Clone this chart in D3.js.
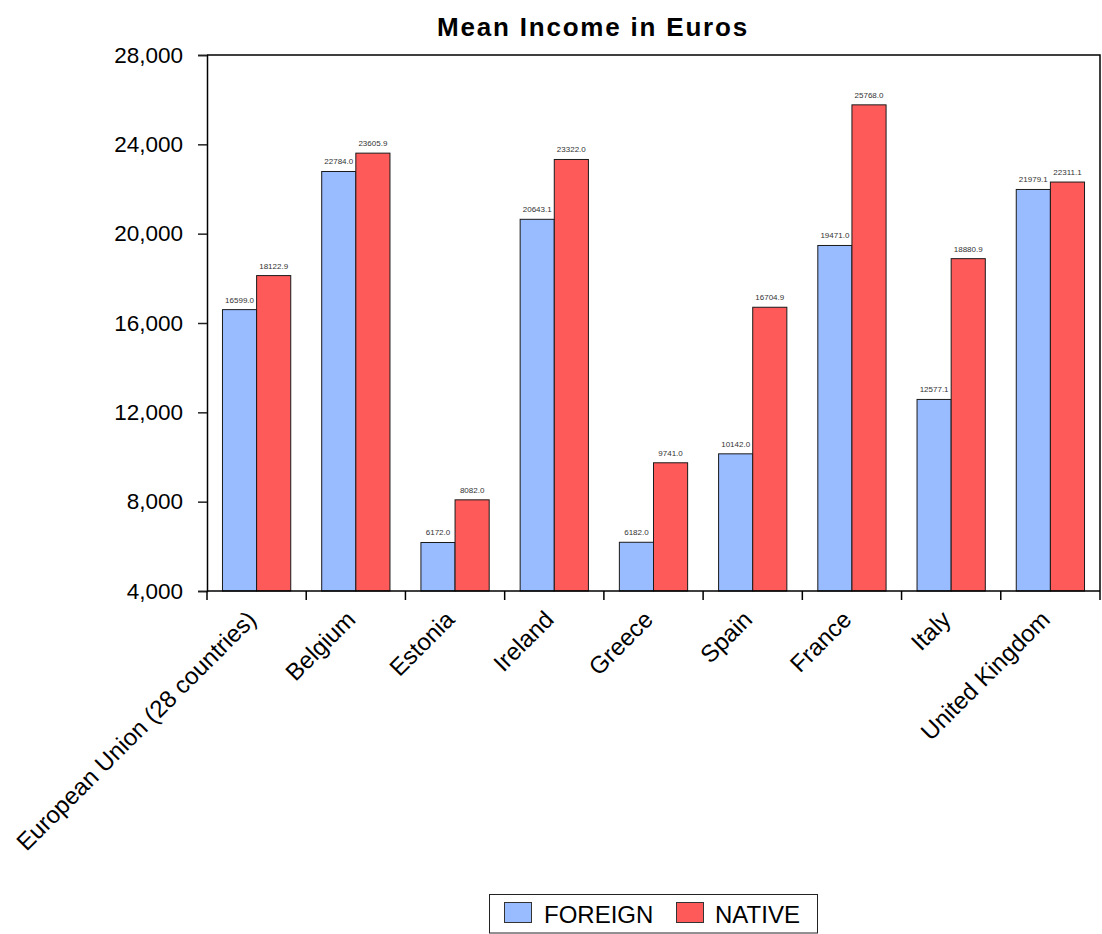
<!DOCTYPE html>
<html>
<head>
<meta charset="utf-8">
<script src="https://cdn.jsdelivr.net/npm/d3@7"></script>
<style>
  html, body { margin: 0; padding: 0; background: #fff; }
  svg { display: block; font-family: Arial, "Liberation Sans", sans-serif; }
</style>
</head>
<body>
<svg id="chart" width="1102" height="934"></svg>
<script>
// Mean income in euros by country, foreign-born vs native population
const categories = [
  "European Union (28 countries)", "Belgium", "Estonia", "Ireland",
  "Greece", "Spain", "France", "Italy", "United Kingdom"
];
const seriesNames = ["FOREIGN", "NATIVE"];
const foreign = [16599.0, 22784.0, 6172.0, 20643.1, 6182.0, 10142.0, 19471.0, 12577.1, 21979.1];
const native  = [18122.9, 23605.9, 8082.0, 23322.0, 9741.0, 16704.9, 25768.0, 18880.9, 22311.1];
const yTicks = [4000, 8000, 12000, 16000, 20000, 24000, 28000];
const colors = ["#99bbff", "#ff5a5a"];

const rows = categories.map((c, i) => ({ category: c, values: [foreign[i], native[i]] }));

const svg = d3.select("#chart");
const plotLeft = 207, plotRight = 1100, plotTop = 55, plotBottom = 591;

const x = d3.scaleBand().domain(categories).range([plotLeft, plotRight]).padding(0);
const inner = d3.scaleBand().domain(seriesNames)
  .range([x.bandwidth() * 0.156, x.bandwidth() * 0.844]).padding(0);
const y = d3.scaleLinear().domain([4000, 28000]).range([plotBottom, plotTop]);

// Title
svg.append("text")
  .attr("x", 593).attr("y", 36)
  .attr("text-anchor", "middle")
  .attr("font-size", 26).attr("font-weight", "bold")
  .attr("letter-spacing", 1.8)
  .attr("fill", "#000")
  .text("Mean Income in Euros");

// Bars
const groups = svg.append("g").selectAll("g").data(rows).join("g")
  .attr("transform", d => `translate(${x(d.category)},0)`);

groups.selectAll("rect")
  .data(d => d.values.map((v, k) => ({ key: seriesNames[k], value: v, k })))
  .join("rect")
  .attr("x", d => inner(d.key))
  .attr("y", d => y(d.value))
  .attr("width", inner.bandwidth())
  .attr("height", d => plotBottom - y(d.value))
  .attr("fill", d => colors[d.k])
  .attr("stroke", "#1a1a1a")
  .attr("stroke-width", 1);

// Value labels
groups.selectAll("text.val")
  .data(d => d.values.map((v, k) => ({ key: seriesNames[k], value: v })))
  .join("text")
  .attr("class", "val")
  .attr("x", d => inner(d.key) + inner.bandwidth() / 2)
  .attr("y", d => y(d.value) - 7)
  .attr("text-anchor", "middle")
  .attr("font-size", 8)
  .attr("fill", "#333")
  .text(d => d.value.toFixed(1));

// Frame: top and right border
svg.append("path")
  .attr("d", `M${plotLeft},${plotTop}H${plotRight}V${plotBottom}`)
  .attr("fill", "none").attr("stroke", "#000").attr("stroke-width", 1.5);

// Y axis
const yAxis = svg.append("g")
  .attr("transform", `translate(${plotLeft},0)`)
  .call(d3.axisLeft(y).tickValues(yTicks).tickFormat(d3.format(",")).tickSize(9).tickPadding(15));
yAxis.select(".domain").attr("stroke", "#000").attr("stroke-width", 1.5);
yAxis.selectAll(".tick line").attr("stroke", "#222").attr("stroke-width", 1.5);
yAxis.selectAll("text").attr("font-size", 22.5).attr("fill", "#000")
  .attr("font-family", "Arial, 'Liberation Sans', sans-serif");

// X axis: ticks at category boundaries
const boundaries = categories.map(c => x(c)).concat([plotRight]);
svg.append("line")
  .attr("x1", plotLeft).attr("x2", plotRight).attr("y1", plotBottom).attr("y2", plotBottom)
  .attr("stroke", "#000").attr("stroke-width", 1.5);
svg.append("g").selectAll("line").data(boundaries).join("line")
  .attr("x1", d => d).attr("x2", d => d)
  .attr("y1", plotBottom).attr("y2", plotBottom + 9)
  .attr("stroke", "#000").attr("stroke-width", 1.5);

svg.append("g").selectAll("text").data(categories).join("text")
  .attr("transform", d => `translate(${x(d) + x.bandwidth() / 2 + 1},${plotBottom + 30}) rotate(-45)`)
  .attr("text-anchor", "end")
  .attr("font-size", 24)
  .attr("fill", "#000")
  .text(d => d);

// Legend
const legend = svg.append("g");
legend.append("rect")
  .attr("x", 489.5).attr("y", 894.5).attr("width", 328).attr("height", 38.5)
  .attr("fill", "#fff").attr("stroke", "#222").attr("stroke-width", 1);
const legendItems = [
  { name: seriesNames[0], color: colors[0], sx: 504, tx: 544 },
  { name: seriesNames[1], color: colors[1], sx: 676, tx: 715 }
];
legend.selectAll("g.item").data(legendItems).join("g").attr("class", "item")
  .each(function(d) {
    const g = d3.select(this);
    g.append("rect").attr("x", d.sx + 0.5).attr("y", 902.5).attr("width", 27).attr("height", 20)
      .attr("fill", d.color).attr("stroke", "#333").attr("stroke-width", 1);
    g.append("text").attr("x", d.tx).attr("y", 922.5)
      .attr("font-size", 24).attr("fill", "#000").text(d.name);
  });
</script>
</body>
</html>
